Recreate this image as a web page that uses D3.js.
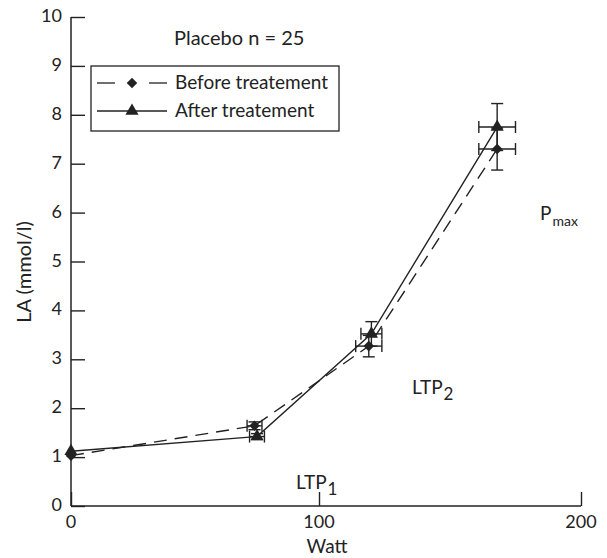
<!DOCTYPE html>
<html>
<head>
<meta charset="utf-8">
<script src="https://cdn.jsdelivr.net/npm/d3@7"></script>
<style>
  body { margin: 0; background: #fff; }
  text { font-family: "Lato", "DejaVu Sans", sans-serif; fill: #222; }
</style>
</head>
<body>
<div id="chart"></div>
<script>
// watt values and lactate (mmol/l)
var wattBefore = [0, 74, 119, 168];
var laBefore   = [1.03, 1.64, 3.27, 7.3];
var wErrBefore = [0, 3, 5, 7];
var laErrBefore = [0, 0.08, 0.22, 0.43];

var wattAfter = [0, 75, 120, 168];
var laAfter   = [1.12, 1.42, 3.52, 7.75];
var wErrAfter = [0, 3, 4, 7];
var laErrAfter = [0, 0.06, 0.25, 0.48];

var xTicks = [0, 100, 200];
var yTicks = [0, 1, 2, 3, 4, 5, 6, 7, 8, 9, 10];

var seriesNames = ['Before treatement', 'After treatement'];
var title = 'Placebo n = 25';

var width = 607, height = 558;

var svg = d3.select('#chart').append('svg')
	.attr('width', width)
	.attr('height', height);

// the printed x axis is a little stretched above 100 W
var x = d3.scaleLinear().domain([0, 100, 200]).range([71, 319, 581]);
var y = d3.scaleLinear().domain([0, 10]).range([506, 17]);

var ink = '#222';

// axes, ticks pointing inward
svg.append('g')
	.attr('transform', 'translate(0,' + y(0) + ')')
	.call(d3.axisTop(x).tickValues(xTicks).tickSize(14).tickFormat(''));
svg.append('g')
	.attr('transform', 'translate(' + x(0) + ',0)')
	.call(d3.axisRight(y).tickValues(yTicks).tickSize(14).tickFormat(''));
svg.selectAll('.domain').remove();
svg.selectAll('.tick line').attr('stroke', ink).attr('stroke-width', 1.4);

svg.append('line')
	.attr('x1', x(0)).attr('x2', x(200))
	.attr('y1', y(0)).attr('y2', y(0))
	.attr('stroke', ink).attr('stroke-width', 1.5);
svg.append('line')
	.attr('x1', x(0)).attr('x2', x(0))
	.attr('y1', y(0)).attr('y2', y(10))
	.attr('stroke', ink).attr('stroke-width', 1.5);

svg.selectAll('.xlab').data(xTicks).enter().append('text')
	.attr('x', function (d) { return x(d); })
	.attr('y', y(0) + 22)
	.attr('text-anchor', 'middle')
	.style('font-size', '18px')
	.text(function (d) { return d; });

svg.selectAll('.ylab').data(yTicks).enter().append('text')
	.attr('x', x(0) - 9)
	.attr('y', function (d) { return y(d) + 5; })
	.attr('text-anchor', 'end')
	.style('font-size', '18px')
	.text(function (d) { return d; });

svg.append('text')
	.attr('x', 327).attr('y', 553)
	.attr('text-anchor', 'middle')
	.style('font-size', '19px')
	.text('Watt');

svg.append('text')
	.attr('transform', 'translate(31,272) rotate(-90)')
	.attr('text-anchor', 'middle')
	.style('font-size', '20px')
	.text('LA (mmol/l)');

// threshold annotations
function subLabel(tx, ty, main, sub, subSize) {
	var t = svg.append('text')
		.attr('x', tx).attr('y', ty)
		.style('font-size', '19px');
	t.append('tspan').text(main);
	t.append('tspan').attr('dy', 6).attr('dx', 1).style('font-size', subSize).text(sub);
}
subLabel(296, 489, 'LTP', '1', '17px');
subLabel(412, 394, 'LTP', '2', '17px');
subLabel(540, 220, 'P', 'max', '14px');

svg.append('text')
	.attr('x', 174).attr('y', 45)
	.style('font-size', '20px')
	.text(title);

// data
var before = wattBefore.map(function (w, i) {
	return { w: w, la: laBefore[i], ew: wErrBefore[i], el: laErrBefore[i] };
});
var after = wattAfter.map(function (w, i) {
	return { w: w, la: laAfter[i], ew: wErrAfter[i], el: laErrAfter[i] };
});

var line = d3.line()
	.x(function (d) { return x(d.w); })
	.y(function (d) { return y(d.la); });

function errorBars(data) {
	var g = svg.append('g').attr('stroke', ink).attr('stroke-width', 1.4);
	data.filter(function (d) { return d.ew > 0; }).forEach(function (d) {
		var cx = x(d.w), cy = y(d.la);
		var x0 = x(d.w - d.ew), x1 = x(d.w + d.ew);
		var y0 = y(d.la - d.el), y1 = y(d.la + d.el);
		g.append('line').attr('x1', x0).attr('x2', x1).attr('y1', cy).attr('y2', cy);
		g.append('line').attr('x1', x0).attr('x2', x0).attr('y1', cy - 6).attr('y2', cy + 6);
		g.append('line').attr('x1', x1).attr('x2', x1).attr('y1', cy - 6).attr('y2', cy + 6);
		g.append('line').attr('x1', cx).attr('x2', cx).attr('y1', y0).attr('y2', y1);
		g.append('line').attr('x1', cx - 6).attr('x2', cx + 6).attr('y1', y0).attr('y2', y0);
		g.append('line').attr('x1', cx - 6).attr('x2', cx + 6).attr('y1', y1).attr('y2', y1);
	});
}

svg.append('path')
	.datum(before)
	.attr('d', line)
	.attr('fill', 'none')
	.attr('stroke', ink)
	.attr('stroke-width', 1.4)
	.attr('stroke-dasharray', '13,8');

svg.append('path')
	.datum(after)
	.attr('d', line)
	.attr('fill', 'none')
	.attr('stroke', ink)
	.attr('stroke-width', 1.4);

errorBars(before);
errorBars(after);

// rhombus marker: a square turned by 45 degrees
var diamond = d3.symbol().type(d3.symbolSquare).size(56);
var triangle = d3.symbol().type(d3.symbolTriangle).size(75);

svg.selectAll('.dia').data(before).enter().append('path')
	.attr('d', diamond)
	.attr('transform', function (d) { return 'translate(' + x(d.w) + ',' + y(d.la) + ') rotate(45)'; })
	.attr('fill', ink);

svg.selectAll('.tri').data(after).enter().append('path')
	.attr('d', triangle)
	.attr('transform', function (d) { return 'translate(' + x(d.w) + ',' + y(d.la) + ')'; })
	.attr('fill', ink);

// legend
var legend = svg.append('g');
legend.append('rect')
	.attr('x', 91).attr('y', 66)
	.attr('width', 248).attr('height', 65)
	.attr('fill', '#fff')
	.attr('stroke', ink).attr('stroke-width', 1.3);

var rows = [83, 111];
rows.forEach(function (ry, i) {
	if (i === 0) {
		legend.append('line').attr('x1', 97).attr('x2', 115).attr('y1', ry).attr('y2', ry)
			.attr('stroke', ink).attr('stroke-width', 1.3);
		legend.append('line').attr('x1', 149).attr('x2', 167).attr('y1', ry).attr('y2', ry)
			.attr('stroke', ink).attr('stroke-width', 1.3);
		legend.append('path').attr('d', diamond)
			.attr('transform', 'translate(132,' + ry + ') rotate(45)').attr('fill', ink);
	} else {
		legend.append('line').attr('x1', 97).attr('x2', 167).attr('y1', ry).attr('y2', ry)
			.attr('stroke', ink).attr('stroke-width', 1.3);
		legend.append('path').attr('d', triangle)
			.attr('transform', 'translate(132,' + ry + ')').attr('fill', ink);
	}
	legend.append('text')
		.attr('x', 175).attr('y', ry + 6)
		.style('font-size', '19px')
		.text(seriesNames[i]);
});
</script>
</body>
</html>
